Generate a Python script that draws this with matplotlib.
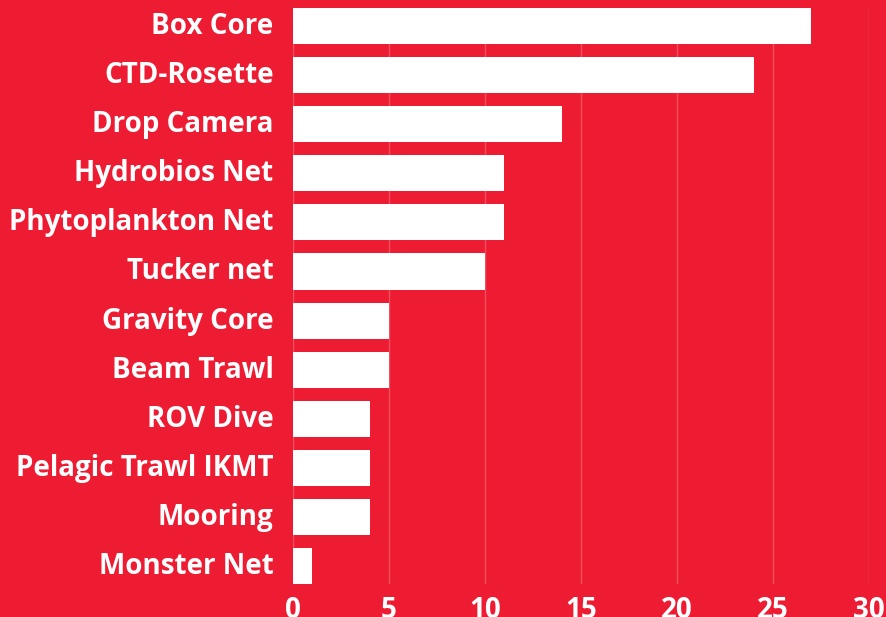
import matplotlib.pyplot as plt
from matplotlib.transforms import ScaledTranslation

categories = ["Box Core", "CTD-Rosette", "Drop Camera", "Hydrobios Net", "Phytoplankton Net",
              "Tucker net", "Gravity Core", "Beam Trawl", "ROV Dive", "Pelagic Trawl IKMT",
              "Mooring", "Monster Net"]
counts = [27, 24, 14, 11, 11, 10, 5, 5, 4, 4, 4, 1]
xticks = [0, 5, 10, 15, 20, 25, 30]

red = "#ED1C33"
plt.rcParams['font.family'] = ['Open Sans', 'DejaVu Sans']

fig = plt.figure(figsize=(8.87, 6.17), dpi=100, facecolor=red)
ax = fig.add_axes([0.3303, 0.0535, 0.6494, 0.9335])
ax.set_facecolor(red)

ax.barh(range(len(categories)), counts, height=0.735, color="white", zorder=3)
ax.set_yticks(range(len(categories)))
ax.set_yticklabels(categories)
ax.set_ylim(len(categories) - 1 + 0.3675, -0.3675)
ax.set_xlim(0, 30)
ax.set_xticks(xticks)
ax.xaxis.grid(True, color="#F3505F", linewidth=1, zorder=0)

for s in ax.spines.values():
    s.set_visible(False)
ax.tick_params(axis="y", length=0, pad=14, labelsize=20, labelcolor="white")
ax.tick_params(axis="x", length=0, pad=9, labelsize=20, labelcolor="white")

# labels sit a little above bar centres in the original
shift = ScaledTranslation(0, 3 / 100, fig.dpi_scale_trans)
for lbl in ax.get_yticklabels():
    lbl.set_fontweight("bold")
    lbl.set_transform(lbl.get_transform() + shift)
for lbl in ax.get_xticklabels():
    lbl.set_fontweight("bold")

fig.savefig("out.png", dpi=100, facecolor=red)
